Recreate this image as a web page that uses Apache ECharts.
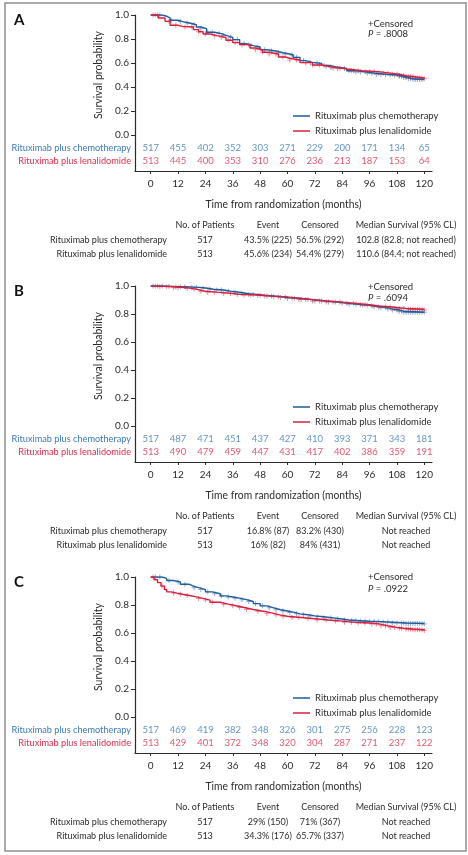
<!DOCTYPE html>
<html>
<head>
<meta charset="utf-8">
<script src="https://cdn.jsdelivr.net/npm/echarts@6/dist/echarts.min.js"></script>
<style>
    html, body { margin: 0; padding: 0; background: #fff; }
    #main { width: 468px; height: 855px; }
</style>
</head>
<body>
<div id="main"></div>
<script>
    var months = [0, 12, 24, 36, 48, 60, 72, 84, 96, 108, 120];
    var groups = ['Rituximab plus chemotherapy', 'Rituximab plus lenalidomide'];
    var tableHeader = ['No. of Patients', 'Event', 'Censored', 'Median Survival (95% CL)'];

    // panel A  [month, survival]
    var kmChemoA = [[0, 1], [5, 0.99], [7, 0.975], [8.5, 0.956], [12, 0.945], [14, 0.933], [17, 0.92], [20, 0.9], [22, 0.886],
        [24.5, 0.856], [28, 0.845], [31, 0.83], [33, 0.814], [36, 0.795], [39, 0.76], [42, 0.745], [45, 0.733], [48, 0.71],
        [51, 0.7], [55, 0.685], [58, 0.675], [61, 0.667], [62.5, 0.647], [65.5, 0.62], [68, 0.605], [71, 0.597], [75, 0.58],
        [78.6, 0.564], [82, 0.555], [86, 0.536], [90, 0.525], [94.7, 0.514], [99, 0.505], [103.5, 0.5], [108, 0.49],
        [110.8, 0.48], [113, 0.47], [115, 0.462], [120, 0.462]];
    var kmLenaA = [[0, 1], [3.3, 0.975], [6.3, 0.947], [8.5, 0.914], [12, 0.905], [14, 0.9], [18.7, 0.878], [21, 0.86],
        [23, 0.842], [26, 0.828], [29, 0.814], [33, 0.79], [36, 0.77], [39, 0.753], [43.5, 0.725], [46, 0.71], [49, 0.69],
        [52, 0.675], [56, 0.65], [59, 0.64], [61, 0.625], [65.5, 0.603], [71, 0.583], [75, 0.57], [78.6, 0.556], [84, 0.55],
        [86, 0.536], [93, 0.528], [100, 0.514], [106, 0.506], [109, 0.495], [112, 0.486], [116, 0.475], [120, 0.468]];
    var censorChemoA = [2, 4, 9, 13, 16, 19, 22, 25, 27, 30, 32, 35, 38, 41, 44, 47, 50, 53, 56, 59, 62, 64, 67, 70, 73, 76,
        79, 82, 85, 88, 90, 92, 95, 97, 99, 101, 103, 105, 107, 109, 110, 111, 112, 113, 114, 115, 116, 117, 118, 119];
    var censorLenaA = [1, 3, 8, 11, 15, 18, 21, 24, 28, 31, 34, 37, 40, 43, 46, 49, 52, 55, 58, 61, 64, 68, 71, 74, 77, 80,
        83, 87, 89, 91, 94, 96, 98, 100, 102, 104, 106, 108, 109, 111, 112, 113, 114, 115, 116, 117, 118, 119, 120];
    var riskChemoA = [517, 455, 402, 352, 303, 271, 229, 200, 171, 134, 65];
    var riskLenaA = [513, 445, 400, 353, 310, 276, 236, 213, 187, 153, 64];
    var tableA = [['517', '43.5% (225)', '56.5% (292)', '102.8 (82.8; not reached)'],
        ['513', '45.6% (234)', '54.4% (279)', '110.6 (84.4; not reached)']];

    // panel B
    var kmChemoB = [[0, 1], [6, 0.997], [10, 0.994], [17, 0.99], [21.6, 0.984], [25, 0.977], [27.5, 0.971], [32, 0.963],
        [35, 0.955], [39, 0.945], [43, 0.94], [46.5, 0.934], [50, 0.929], [53.8, 0.924], [57, 0.917], [60, 0.912],
        [65, 0.903], [71, 0.893], [77, 0.885], [82, 0.878], [86, 0.869], [91, 0.862], [96, 0.852], [100, 0.845],
        [104, 0.835], [106, 0.829], [109, 0.82], [111, 0.812], [120, 0.812]];
    var kmLenaB = [[0, 1], [4, 0.995], [10, 0.988], [15.8, 0.983], [18, 0.978], [20, 0.97], [22, 0.962], [24, 0.956],
        [29, 0.953], [32, 0.946], [36, 0.94], [39, 0.936], [46.5, 0.932], [50, 0.928], [53.8, 0.922], [60, 0.912],
        [65, 0.903], [71, 0.893], [77, 0.885], [84, 0.876], [90, 0.866], [96, 0.857], [100, 0.85], [106, 0.84],
        [112, 0.834], [120, 0.829]];
    var censorChemoB = [1, 3, 5, 8, 11, 13, 15, 18, 20, 23, 26, 29, 31, 34, 37, 40, 43, 45, 48, 51, 54, 57, 60, 63, 66,
        69, 72, 75, 78, 81, 84, 87, 90, 93, 95, 98, 101, 104, 106, 108, 109, 110, 111, 112, 113, 114, 115, 116, 117, 118, 119, 120];
    var censorLenaB = [2, 4, 7, 10, 12, 16, 19, 22, 25, 28, 32, 35, 38, 41, 44, 47, 50, 53, 56, 59, 62, 65, 68, 71, 74, 77,
        80, 83, 86, 89, 92, 94, 97, 100, 103, 105, 107, 109, 111, 113, 114, 115, 116, 117, 118, 119, 120];
    var riskChemoB = [517, 487, 471, 451, 437, 427, 410, 393, 371, 343, 181];
    var riskLenaB = [513, 490, 479, 459, 447, 431, 417, 402, 386, 359, 191];
    var tableB = [['517', '16.8% (87)', '83.2% (430)', 'Not reached'],
        ['513', '16% (82)', '84% (431)', 'Not reached']];

    // panel C
    var kmChemoC = [[0, 1], [5, 0.99], [7, 0.975], [10, 0.965], [13, 0.948], [17, 0.935], [18.7, 0.924], [21, 0.91],
        [24, 0.894], [27, 0.88], [30.5, 0.865], [33, 0.857], [36, 0.849], [39, 0.838], [42, 0.825], [45, 0.81], [48, 0.794],
        [51, 0.78], [54, 0.766], [57, 0.757], [60, 0.747], [63, 0.737], [65.5, 0.73], [69, 0.722], [72, 0.716], [76, 0.708],
        [80, 0.7], [84, 0.693], [87, 0.688], [92, 0.684], [96, 0.681], [101, 0.677], [106, 0.672], [112, 0.668], [120, 0.665]];
    var kmLenaC = [[0, 1], [1.5, 0.98], [3, 0.96], [4.5, 0.935], [6, 0.91], [7, 0.894], [9, 0.885], [11.5, 0.877],
        [14, 0.868], [17, 0.858], [20, 0.847], [23, 0.835], [26, 0.82], [30.5, 0.806], [34, 0.795], [37.5, 0.782],
        [41, 0.768], [45, 0.754], [50, 0.74], [54, 0.728], [57, 0.72], [60, 0.711], [66, 0.702], [72, 0.693], [78, 0.685],
        [84, 0.676], [90, 0.671], [96, 0.665], [100, 0.652], [104, 0.64], [108, 0.634], [111, 0.629], [115, 0.623], [120, 0.617]];
    var censorChemoC = [2, 4, 8, 12, 15, 19, 22, 25, 28, 31, 34, 37, 40, 43, 46, 49, 52, 55, 58, 61, 64, 67, 70, 73, 76,
        79, 82, 85, 88, 90, 92, 94, 96, 98, 100, 102, 104, 106, 108, 110, 111, 112, 113, 114, 115, 116, 117, 118, 119, 120];
    var censorLenaC = [1, 5, 10, 13, 16, 21, 24, 27, 32, 36, 39, 42, 47, 51, 55, 58, 62, 65, 69, 73, 77, 81, 85, 88, 91,
        94, 97, 99, 101, 103, 105, 107, 109, 110, 112, 113, 114, 115, 116, 117, 118, 119, 120];
    var riskChemoC = [517, 469, 419, 382, 348, 326, 301, 275, 256, 228, 123];
    var riskLenaC = [513, 429, 401, 372, 348, 320, 304, 287, 271, 237, 122];
    var tableC = [['517', '29% (150)', '71% (367)', 'Not reached'],
        ['513', '34.3% (176)', '65.7% (337)', 'Not reached']];

    var pValues = ['.8008', '.6094', '.0922'];

    var BLUE = '#1f5c99', RED = '#d71f3c';
    var BLUE_TXT = '#3c7ab4', RED_TXT = '#d8304e';
    var INK = '#2b2b2b';
    var FONT = 'Lato, "Open Sans", sans-serif';
    var XMIN = -6.9, XMAX = 123.4;
    var LEFT = 135, WIDTH = 297;
    var PLUS = 'path://M2,0H3V2H5V3H3V5H2V3H0V2H2Z';

    var panels = [
        {letter: 'A', top: 15, height: 120, km: [kmChemoA, kmLenaA], censor: [censorChemoA, censorLenaA],
            risk: [riskChemoA, riskLenaA], table: tableA, censY: 24, pY: 34},
        {letter: 'B', top: 286, height: 140, km: [kmChemoB, kmLenaB], censor: [censorChemoB, censorLenaB],
            risk: [riskChemoB, riskLenaB], table: tableB, censY: 287, pY: 298},
        {letter: 'C', top: 577, height: 140, km: [kmChemoC, kmLenaC], censor: [censorChemoC, censorLenaC],
            risk: [riskChemoC, riskLenaC], table: tableC, censY: 577, pY: 589}
    ];

    // value of the step curve at time t
    function stepAt(curve, t) {
        var s = curve[0][1];
        for (var i = 0; i < curve.length; i++) {
            if (curve[i][0] <= t) s = curve[i][1];
        }
        return s;
    }

    var axisLine = {show: true, onZero: false, lineStyle: {color: INK, width: 1.2}};
    var grids = [], xAxes = [], yAxes = [], series = [], legends = [];
    var graphics = [{
        type: 'rect', shape: {x: 5, y: 3, width: 461, height: 848},
        style: {fill: 'none', stroke: '#8f8f8f', lineWidth: 1.5}
    }];
    var lineColors = [BLUE, RED], textColors = [BLUE_TXT, RED_TXT];

    panels.forEach(function (p, k) {
        var zero = p.top + p.height;
        grids.push({left: LEFT, width: WIDTH, top: p.top, height: p.height});
        grids.push({left: LEFT, width: WIDTH, top: zero, height: 36});

        xAxes.push({gridIndex: 2 * k, type: 'value', min: XMIN, max: XMAX, show: false});
        yAxes.push({
            gridIndex: 2 * k, type: 'value', min: 0, max: 1, interval: 0.2,
            axisLine: axisLine,
            axisTick: {show: true, length: 4, lineStyle: {color: INK}},
            axisLabel: {margin: 6, fontSize: 10, color: INK, fontFamily: FONT,
                formatter: function (v) { return v.toFixed(1); }},
            splitLine: {show: false},
            name: 'Survival probability', nameLocation: 'middle', nameGap: 25,
            nameTextStyle: {fontSize: 10.5, color: INK, fontFamily: FONT}
        });

        xAxes.push({
            gridIndex: 2 * k + 1, type: 'value', min: XMIN, max: XMAX, position: 'bottom',
            axisLine: axisLine,
            axisTick: {show: true, length: 3, customValues: months, lineStyle: {color: INK}},
            axisLabel: {customValues: months, margin: 8, fontSize: 10, color: INK, fontFamily: FONT},
            splitLine: {show: false}
        });
        yAxes.push({
            gridIndex: 2 * k + 1, type: 'value', min: 0, max: 2.8, inverse: true,
            axisLine: axisLine,
            axisTick: {show: false},
            splitLine: {show: false},
            axisLabel: {
                customValues: [1, 2], margin: 4, fontFamily: FONT,
                formatter: function (v) { return v === 1 ? '{b|' + groups[0] + '}' : '{r|' + groups[1] + '}'; },
                rich: {
                    b: {color: BLUE_TXT, fontSize: 9.2, fontFamily: FONT},
                    r: {color: RED_TXT, fontSize: 9.2, fontFamily: FONT}
                }
            }
        });

        for (var g = 0; g < 2; g++) {
            var km = p.km[g];
            series.push({
                name: groups[g], type: 'line', step: 'end', data: km,
                xAxisIndex: 2 * k, yAxisIndex: 2 * k,
                showSymbol: false, color: lineColors[g],
                lineStyle: {color: lineColors[g], width: 1.4}, z: 3
            });
            series.push({
                name: 'censor', type: 'scatter', silent: true,
                xAxisIndex: 2 * k, yAxisIndex: 2 * k,
                data: p.censor[g].map(function (t) { return [t, stepAt(km, t)]; }),
                symbol: PLUS, symbolSize: 5,
                itemStyle: {color: lineColors[g], opacity: 0.5}, z: 2
            });
            var risk = p.risk[g];
            series.push({
                name: 'risk', type: 'scatter', silent: true,
                xAxisIndex: 2 * k + 1, yAxisIndex: 2 * k + 1,
                data: months.map(function (m, i) { return [m, g + 1, risk[i]]; }),
                symbolSize: 1, itemStyle: {color: 'transparent'},
                label: {
                    show: true, position: 'inside', color: textColors[g], fontSize: 9.5, fontFamily: FONT,
                    formatter: function (d) { return d.value[2]; }
                }
            });
        }

        legends.push({
            data: groups, orient: 'vertical', left: 288, top: zero - 30,
            icon: 'rect', itemWidth: 17, itemHeight: 1.5, itemGap: 3,
            textStyle: {fontSize: 9.5, color: INK, fontFamily: FONT, lineHeight: 12}
        });

        // x-axis title, narrow lettering
        graphics.push({type: 'text', x: 283.5, y: zero + 69, scaleX: 0.86, originX: 0, originY: 0,
            style: {text: 'Time from randomization (months)', font: '12px ' + FONT, fill: INK,
                textAlign: 'center', textVerticalAlign: 'middle'}});

        // panel letter and notes
        graphics.push({type: 'text', x: 14, y: p.top + 5,
            style: {text: p.letter, font: 'bold 15px ' + FONT, fill: '#111', textVerticalAlign: 'middle'}});
        graphics.push({type: 'text', x: 368, y: p.censY,
            style: {text: '+Censored', font: '9.5px ' + FONT, fill: INK, textVerticalAlign: 'middle'}});
        graphics.push({type: 'text', x: 368, y: p.pY,
            style: {text: '{i|P} = ' + pValues[k], font: '9.5px ' + FONT, fill: INK, textVerticalAlign: 'middle',
                rich: {i: {fontStyle: 'italic', fontSize: 9.5, fontFamily: FONT, fill: INK}}}});

        // summary table
        var cols = [205, 268, 320, 406];
        tableHeader.forEach(function (h, c) {
            graphics.push({type: 'text', x: cols[c], y: zero + 90,
                style: {text: h, font: '9px ' + FONT, fill: INK, textAlign: 'center', textVerticalAlign: 'middle'}});
        });
        p.table.forEach(function (row, r) {
            var y = zero + 105 + r * 14;
            graphics.push({type: 'text', x: 167, y: y,
                style: {text: groups[r], font: '9px ' + FONT, fill: INK, textAlign: 'right', textVerticalAlign: 'middle'}});
            row.forEach(function (cell, c) {
                graphics.push({type: 'text', x: cols[c], y: y,
                    style: {text: cell, font: '9px ' + FONT, fill: INK, textAlign: 'center', textVerticalAlign: 'middle'}});
            });
        });
    });

    var myChart = echarts.init(document.getElementById('main'));
    myChart.setOption({
        animation: false,
        grid: grids,
        xAxis: xAxes,
        yAxis: yAxes,
        legend: legends,
        series: series,
        graphic: graphics
    });
</script>
</body>
</html>
